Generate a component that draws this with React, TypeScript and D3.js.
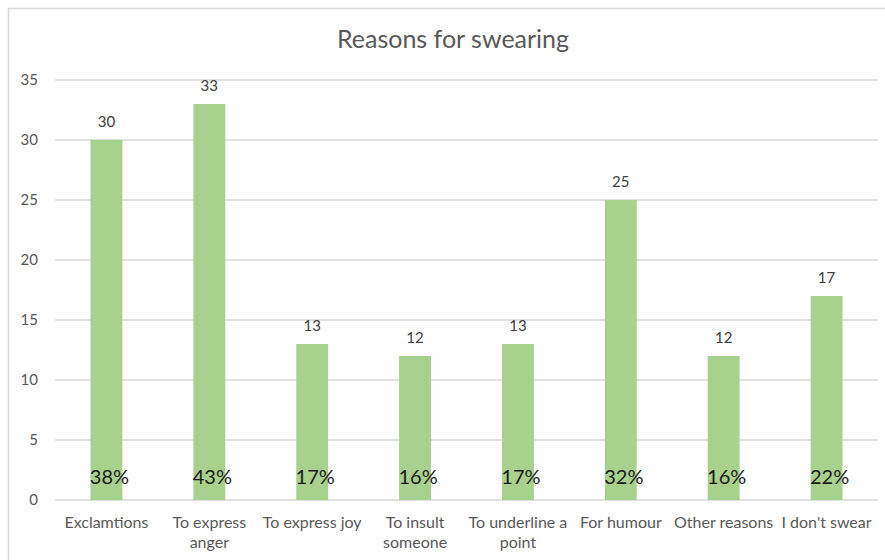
import React from "react";
import * as d3 from "d3";

const categories: string[][] = [
  ["Exclamtions"],
  ["To express", "anger"],
  ["To express joy"],
  ["To insult", "someone"],
  ["To underline a", "point"],
  ["For humour"],
  ["Other reasons"],
  ["I don't swear"],
];
const counts: number[] = [30, 33, 13, 12, 13, 25, 12, 17];
const shares: string[] = ["38%", "43%", "17%", "16%", "17%", "32%", "16%", "22%"];
const yTicks: number[] = [0, 5, 10, 15, 20, 25, 30, 35];

const W = 885;
const H = 560;
const FONT = "Lato, 'Open Sans', sans-serif";

export default function App() {
  const margin = { left: 55, right: 7, top: 80, bottom: 60 };
  const x = d3
    .scaleBand<number>()
    .domain(d3.range(counts.length))
    .range([margin.left, W - margin.right])
    .paddingInner(0.69)
    .paddingOuter(0.345);
  const y = d3.scaleLinear().domain([0, 35]).range([H - margin.bottom, margin.top]);

  return (
    <svg
      width={W}
      height={H}
      style={{ position: "absolute", left: 0, top: 0, background: "#fff" }}
      fontFamily={FONT}
    >
      <rect x={8.5} y={8.5} width={W + 10} height={H + 10} fill="#fff" stroke="#D9D9D9" strokeWidth={1.5} />
      <text x={453} y={48} textAnchor="middle" fontSize={25} fill="#595959">
        Reasons for swearing
      </text>
      {yTicks.map((t) => (
        <g key={t}>
          <line x1={margin.left} x2={W - margin.right} y1={y(t)} y2={y(t)} stroke="#D9D9D9" strokeWidth={1.3} />
          <text x={38} y={y(t)} dy="0.35em" textAnchor="end" fontSize={15} fill="#595959">
            {t}
          </text>
        </g>
      ))}
      {counts.map((v, i) => {
        const bx = x(i)!;
        const bw = x.bandwidth();
        const cx = bx + bw / 2;
        return (
          <g key={i}>
            <rect x={bx} y={y(v)} width={bw} height={y(0) - y(v)} fill="#A9D18E" />
            <text x={cx} y={y(v) - 13} textAnchor="middle" fontSize={15} fill="#404040">
              {v}
            </text>
            <text x={cx + 3} y={484} textAnchor="middle" fontSize={20} fill="#1a1a1a">
              {shares[i]}
            </text>
            {categories[i].map((line, j) => (
              <text key={j} x={cx} y={528 + j * 20} textAnchor="middle" fontSize={16} fill="#595959">
                {line}
              </text>
            ))}
          </g>
        );
      })}
    </svg>
  );
}
